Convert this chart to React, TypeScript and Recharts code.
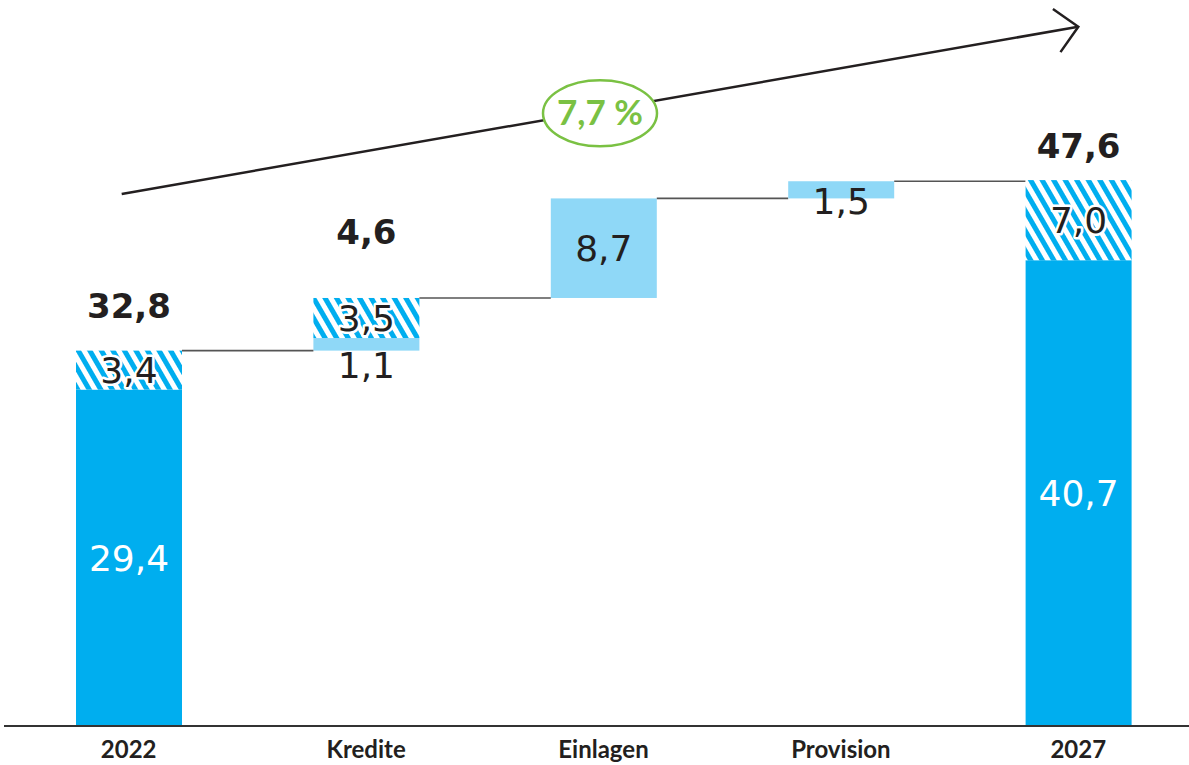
import { BarChart, Bar, XAxis, YAxis, LabelList, ReferenceLine } from 'recharts';

const categories = ['2022', 'Kredite', 'Einlagen', 'Provision', '2027'];
const isTotal = [true, false, false, false, true];
const solidValues = [29.4, 0, 0, 0, 40.7];
const lightValues = [0, 1.1, 8.7, 1.5, 0];
const hatchedValues = [3.4, 3.5, 0, 0, 7.0];
const totalLabels = [32.8, 4.6, null, null, 47.6];
const growthLabel = '7,7 %';

const DARK = '#00aeef';
const LIGHT = '#8fd8f7';
const GREEN = '#7ac143';
const INK = '#231f20';
const NUM_FONT = '"DejaVu Sans", sans-serif';

const CHART_W = 1197;
const CHART_H = 765;
const BAR_SIZE = 106;
const MARGIN_LEFT = 4;
const PAD_LEFT = 6;
const BAND = (CHART_W - MARGIN_LEFT - PAD_LEFT) / categories.length;
const GAP = BAND - BAR_SIZE;

// running base for waterfall steps
let level = 0;
const data = categories.map((name, i) => {
  const sum = solidValues[i] + lightValues[i] + hatchedValues[i];
  const base = isTotal[i] ? 0 : level;
  level = base + sum;
  return {
    name,
    base,
    solid: solidValues[i],
    light: lightValues[i],
    hatched: hatchedValues[i],
    total: totalLabels[i],
  };
});

const fmt = (v: number) => v.toFixed(1).replace('.', ',');

const topKeyOf = (d: any) => ['solid', 'light', 'hatched'].filter((k) => d[k] > 0).pop();

const segmentShape = (key: string, fill: string) => (props: any) => {
  const { x, y, width, height, payload, index } = props;
  if (!payload || !payload[key]) return <g />;
  const drawConnector = topKeyOf(payload) === key && index < categories.length - 1;
  return (
    <g>
      <rect x={x} y={y} width={width} height={height} fill={fill} />
      {drawConnector && (
        <line x1={x + width} y1={y} x2={x + width + GAP} y2={y} stroke="#555" strokeWidth={1.6} />
      )}
    </g>
  );
};

const centerLabel = (color: string, halo: boolean) => (props: any) => {
  const { x, y, width, height, value } = props;
  if (!value) return null;
  return (
    <text
      x={x + width / 2}
      y={y + height / 2 + 13}
      textAnchor="middle"
      fontFamily={NUM_FONT}
      fontSize={36}
      fill={color}
      stroke={halo ? '#fff' : 'none'}
      strokeWidth={halo ? 5 : 0}
      paintOrder="stroke"
      strokeLinejoin="round"
    >
      {fmt(value)}
    </text>
  );
};

const lightLabel = (props: any) => {
  const { x, y, width, height, value, index } = props;
  if (!value) return null;
  let baseY = y + height / 2 + 13;
  if (categories[index] === 'Kredite') baseY = y + height + 27;
  if (categories[index] === 'Provision') baseY = y + 33;
  return (
    <text x={x + width / 2} y={baseY} textAnchor="middle" fontFamily={NUM_FONT} fontSize={36} fill={INK}>
      {fmt(value)}
    </text>
  );
};

const totalLift: Record<string, number> = { '2022': 33, Kredite: 54, '2027': 22 };

const totalLabel = (props: any) => {
  const { x, y, width, value, index } = props;
  if (value == null) return null;
  return (
    <text
      x={x + width / 2}
      y={y - totalLift[categories[index]]}
      textAnchor="middle"
      fontFamily={NUM_FONT}
      fontWeight="bold"
      fontSize={34}
      fill={INK}
    >
      {fmt(value)}
    </text>
  );
};

const CategoryTick = (props: any) => {
  const { x, y, payload } = props;
  return (
    <text x={x} y={y + 24} textAnchor="middle" fontFamily="Lato, sans-serif" fontWeight="bold" fontSize={24} fill={INK}>
      {payload.value}
    </text>
  );
};

const GrowthArrow = (props: any) => {
  const { x1, y1, x2, y2 } = props;
  const ang = Math.atan2(y2 - y1, x2 - x1);
  const back = ang + Math.PI;
  const len = 31;
  const a1 = back + Math.PI / 4;
  const a2 = back - Math.PI / 4;
  const sx = x1 - 7;
  const sy = y1 - 7 * Math.tan(ang);
  const mx = (sx + x2) / 2;
  const my = (sy + y2) / 2;
  return (
    <g>
      <line x1={sx} y1={sy} x2={x2} y2={y2} stroke={INK} strokeWidth={2.5} />
      <polyline
        points={`${x2 + len * Math.cos(a1)},${y2 + len * Math.sin(a1)} ${x2},${y2} ${x2 + len * Math.cos(a2)},${y2 + len * Math.sin(a2)}`}
        fill="none"
        stroke={INK}
        strokeWidth={2.5}
      />
      <ellipse cx={mx} cy={my + 3} rx={57} ry={33} fill="#fff" stroke={GREEN} strokeWidth={2.5} />
      <text x={mx} y={my + 15} textAnchor="middle" fontFamily="Lato, sans-serif" fontWeight="bold" fontSize={35} fill={GREEN}>
        {growthLabel}
      </text>
    </g>
  );
};

export default function App() {
  return (
    <div style={{ position: 'absolute', left: 0, top: 0, width: 1189, height: 765, overflow: 'hidden', background: '#fff' }}>
      <BarChart width={CHART_W} height={CHART_H} data={data} margin={{ top: 5, right: 0, bottom: 0, left: MARGIN_LEFT }} barSize={BAR_SIZE}>
        <defs>
          <pattern id="hatch" width="10" height="10" patternUnits="userSpaceOnUse" patternTransform="rotate(-30)">
            <rect width="10" height="10" fill="#fff" />
            <rect width="5" height="10" fill={DARK} />
          </pattern>
        </defs>
        <XAxis
          dataKey="name"
          axisLine={{ stroke: '#333', strokeWidth: 2 }}
          tickLine={false}
          tick={<CategoryTick />}
          height={39}
          padding={{ left: PAD_LEFT, right: 0 }}
          interval={0}
        />
        <YAxis hide domain={[0, 63]} />
        <Bar dataKey="base" stackId="w" fill="transparent" isAnimationActive={false} />
        <Bar dataKey="solid" stackId="w" fill={DARK} shape={segmentShape('solid', DARK)} isAnimationActive={false}>
          <LabelList dataKey="solid" content={centerLabel('#fff', false)} />
        </Bar>
        <Bar dataKey="light" stackId="w" fill={LIGHT} shape={segmentShape('light', LIGHT)} isAnimationActive={false}>
          <LabelList dataKey="light" content={lightLabel} />
        </Bar>
        <Bar dataKey="hatched" stackId="w" fill="url(#hatch)" shape={segmentShape('hatched', 'url(#hatch)')} isAnimationActive={false}>
          <LabelList dataKey="hatched" content={centerLabel(INK, true)} />
          <LabelList dataKey="total" content={totalLabel} />
        </Bar>
        <ReferenceLine
          segment={[{ x: '2022', y: 46.6 }, { x: '2027', y: 61.1 }]}
          ifOverflow="visible"
          shape={GrowthArrow}
        />
      </BarChart>
    </div>
  );
}
